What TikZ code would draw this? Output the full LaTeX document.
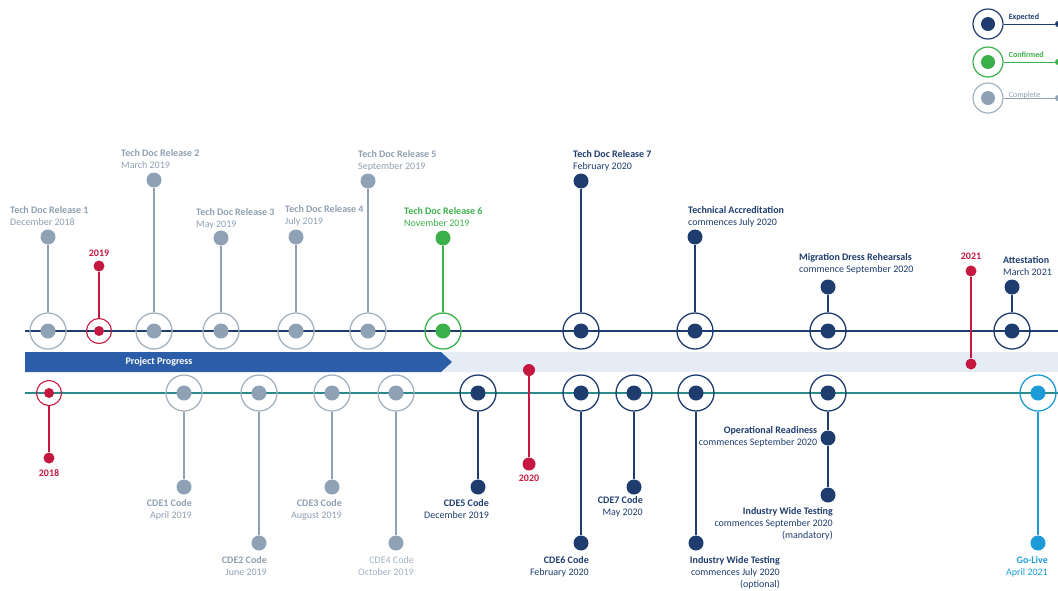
\documentclass[tikz,border=0pt]{standalone}
\usepackage{fontspec}
\setmainfont{Carlito}
\usepackage{xcolor}
\usepackage{tikz}
\definecolor{cnavy}{HTML}{1F3C6E}
\definecolor{cdone}{HTML}{8FA2B5}
\definecolor{cdonering}{HTML}{A4B2C0}
\definecolor{cdonetext}{HTML}{8E9FB1}
\definecolor{cconf}{HTML}{3BB04A}
\definecolor{cyear}{HTML}{C41841}
\definecolor{clive}{HTML}{1C9BD7}
\definecolor{cline}{HTML}{2C8A8C}
\definecolor{cprog}{HTML}{2C5DA8}
\definecolor{cband}{HTML}{E6ECF5}
\NewDocumentCommand{\mstitle}{m m}{\textbf{#1}\\#2}

\begin{document}
\begin{tikzpicture}[x=1pt, y=-1pt,
		msring/.style={circle, draw, line width=1.3pt, minimum size=36pt, inner sep=0pt},
		yrring/.style={circle, draw, line width=1.1pt, minimum size=25pt, inner sep=0pt},
		msdot/.style={circle, fill, minimum size=15pt, inner sep=0pt},
		yrdot/.style={circle, fill, minimum size=11pt, inner sep=0pt},
		stem/.style={line width=1.1pt},
		lbl/.style={inner sep=0pt, font=\fontsize{10}{12}\selectfont, execute at begin node=\strut, execute at end node=\strut},
		tl/.style={lbl, align=left, anchor=south west},
		bl/.style={lbl, align=right, anchor=north east},
		yr/.style={inner sep=0pt, font=\fontsize{10}{12}\selectfont\bfseries, cyear},
		lgring/.style={circle, draw, line width=1.2pt, minimum size=30pt, inner sep=0pt},
		lgdot/.style={circle, fill, minimum size=14pt, inner sep=0pt},
		lgtext/.style={inner sep=0pt, font=\fontsize{8}{10}\selectfont\bfseries, anchor=base west}]
		\useasboundingbox (0,0) rectangle (1058,590);

		\fill [cband] (25,352) rectangle (1058,372);
		\fill [cprog] (25,352) -- (441,352) -- (452,362) -- (441,372) -- (25,372) -- cycle;
		\path (159,362) node [inner sep=0pt, white, font=\fontsize{10}{12}\selectfont\bfseries] (prog) {Project Progress};

		\path (25,331) coordinate (tla) (1058,331) coordinate (tlb);
		\path [draw, cnavy, line width=1.8pt] (tla) -- (tlb);
		\path (25,393) coordinate (bla) (1058,393) coordinate (blb);
		\path [draw, cline, line width=2.2pt] (bla) -- (blb);

		\path (988,24) node [lgring, cnavy] (lge) {} node [lgdot, cnavy] (lgec) {};
		\path (1058,24) node [circle, fill, cnavy, minimum size=6pt, inner sep=0pt] (lgee) {};
		\path [draw, cnavy, line width=1pt] (lge) edge (lgee);
		\path (lge.east) ++(5,-5) node [lgtext, cnavy] (lget) {Expected};
		\path (988,62) node [lgring, cconf] (lgc) {} node [lgdot, cconf] (lgcc) {};
		\path (1058,62) node [circle, fill, cconf, minimum size=6pt, inner sep=0pt] (lgce) {};
		\path [draw, cconf, line width=1pt] (lgc) edge (lgce);
		\path (lgc.east) ++(5,-5) node [lgtext, cconf] (lgct) {Confirmed};
		\path (988,98) node [lgring, cdonering] (lgd) {} node [lgdot, cdone] (lgdc) {};
		\path (1058,98) node [circle, fill, cdone, minimum size=6pt, inner sep=0pt] (lgde) {};
		\path [draw, cdone, line width=1pt] (lgd) edge (lgde);
		\path (lgd.east) ++(5,-1) node [lgtext, cdonetext, font=\fontsize{8}{10}\selectfont] (lgdt) {Complete};

		\path (48,331) node [msring, cdonering] (r1) {} node [msdot, cdone] (c1) {};
		\path (r1) ++(0,-94) node [msdot, cdone] (d1) {};
		\path (d1.north) ++(-38,0) node [tl, cdonetext] (l1) {\mstitle{Tech Doc Release 1}{December 2018}};
		\path [draw, stem, cdone] (r1) edge (d1);

		\path (99,331) node [yrring, cyear] (ry19) {} node [yrdot, cyear, minimum size=10pt] (cy19) {};
		\path (ry19) ++(0,-65) node [yrdot, cyear] (dy19) {};
		\path (dy19.north) ++(0,-4) node [yr, anchor=south] (ly19) {2019};
		\path [draw, stem, cyear] (ry19) edge (dy19);

		\path (154,331) node [msring, cdonering] (r2) {} node [msdot, cdone] (c2) {};
		\path (r2) ++(0,-151) node [msdot, cdone] (d2) {};
		\path (d2.north) ++(-33,0) node [tl, cdonetext] (l2) {\mstitle{Tech Doc Release 2}{March 2019}};
		\path [draw, stem, cdone] (r2) edge (d2);

		\path (221,331) node [msring, cdonering] (r3) {} node [msdot, cdone] (c3) {};
		\path (r3) ++(0,-93) node [msdot, cdone] (d3) {};
		\path (d3.north) ++(-25,1) node [tl, cdonetext] (l3) {\mstitle{Tech Doc Release 3}{May 2019}};
		\path [draw, stem, cdone] (r3) edge (d3);

		\path (296,331) node [msring, cdonering] (r4) {} node [msdot, cdone] (c4) {};
		\path (r4) ++(0,-94) node [msdot, cdone] (d4) {};
		\path (d4.north) ++(-11,-1) node [tl, cdonetext] (l4) {\mstitle{Tech Doc Release 4}{July 2019}};
		\path [draw, stem, cdone] (r4) edge (d4);

		\path (368,331) node [msring, cdonering] (r5) {} node [msdot, cdone] (c5) {};
		\path (r5) ++(0,-150) node [msdot, cdone] (d5) {};
		\path (d5.north) ++(-10,0) node [tl, cdonetext] (l5) {\mstitle{Tech Doc Release 5}{September 2019}};
		\path [draw, stem, cdone] (r5) edge (d5);

		\path (443,331) node [msring, cconf] (r6) {} node [msdot, cconf] (c6) {};
		\path (r6) ++(0,-93) node [msdot, cconf] (d6) {};
		\path (d6.north) ++(-39,0) node [tl, cconf] (l6) {\mstitle{Tech Doc Release 6}{November 2019}};
		\path [draw, stem, cconf] (r6) edge (d6);

		\path (581,331) node [msring, cnavy] (r7) {} node [msdot, cnavy] (c7) {};
		\path (r7) ++(0,-150) node [msdot, cnavy] (d7) {};
		\path (d7.north) ++(-8,0) node [tl, cnavy] (l7) {\mstitle{Tech Doc Release 7}{February 2020}};
		\path [draw, stem, cnavy] (r7) edge (d7);

		\path (695,331) node [msring, cnavy] (rta) {} node [msdot, cnavy] (cta) {};
		\path (rta) ++(0,-94) node [msdot, cnavy] (dta) {};
		\path (dta.north) ++(-7,0) node [tl, cnavy] (lta) {\mstitle{Technical Accreditation}{commences July 2020}};
		\path [draw, stem, cnavy] (rta) edge (dta);

		\path (828,331) node [msring, cnavy] (rmd) {} node [msdot, cnavy] (cmd) {};
		\path (rmd) ++(0,-44) node [msdot, cnavy] (dmd) {};
		\path (dmd.north) ++(-29,-3) node [tl, cnavy] (lmd) {\mstitle{Migration Dress Rehearsals}{commence September 2020}};
		\path [draw, stem, cnavy] (rmd) edge (dmd);

		\path (1012,331) node [msring, cnavy] (rat) {} node [msdot, cnavy] (cat) {};
		\path (rat) ++(0,-44) node [msdot, cnavy] (dat) {};
		\path (dat.north) ++(-9,0) node [tl, cnavy] (lat) {\mstitle{Attestation}{March 2021}};
		\path [draw, stem, cnavy] (rat) edge (dat);

		\path (971,271) node [yrdot, cyear] (dy21) {};
		\path (dy21) ++(0,93) node [yrdot, cyear] (ey21) {};
		\path (dy21.north) ++(0,-6) node [yr, anchor=south] (ly21) {2021};
		\path [draw, stem, cyear] (dy21) edge (ey21);

		\path (49,393) node [yrring, cyear] (ry18) {} node [yrdot, cyear, minimum size=10pt] (cy18) {};
		\path (ry18) ++(0,65) node [yrdot, cyear] (dy18) {};
		\path (dy18.south) ++(0,6) node [yr, anchor=north] (ly18) {2018};
		\path [draw, stem, cyear] (ry18) edge (dy18);

		\path (184,393) node [msring, cdonering] (rc1) {} node [msdot, cdone] (cc1) {};
		\path (rc1) ++(0,94) node [msdot, cdone] (dc1) {};
		\path (dc1.south) ++(8,5) node [bl, cdonetext] (lc1) {\mstitle{CDE1 Code}{April 2019}};
		\path [draw, stem, cdone] (rc1) edge (dc1);

		\path (259,393) node [msring, cdonering] (rc2) {} node [msdot, cdone] (cc2) {};
		\path (rc2) ++(0,150) node [msdot, cdone] (dc2) {};
		\path (dc2.south) ++(8,6) node [bl, cdonetext] (lc2) {\mstitle{CDE2 Code}{June 2019}};
		\path [draw, stem, cdone] (rc2) edge (dc2);

		\path (332,393) node [msring, cdonering] (rc3) {} node [msdot, cdone] (cc3) {};
		\path (rc3) ++(0,94) node [msdot, cdone] (dc3) {};
		\path (dc3.south) ++(10,5) node [bl, cdonetext] (lc3) {\mstitle{CDE3 Code}{August 2019}};
		\path [draw, stem, cdone] (rc3) edge (dc3);

		\path (396,393) node [msring, cdonering] (rc4) {} node [msdot, cdone] (cc4) {};
		\path (rc4) ++(0,150) node [msdot, cdone] (dc4) {};
		\path (dc4.south) ++(18,6) node [bl, cdonering] (lc4) {CDE4 Code\\October 2019};
		\path [draw, stem, cdone] (rc4) edge (dc4);

		\path (478,393) node [msring, cnavy] (rc5) {} node [msdot, cnavy] (cc5) {};
		\path (rc5) ++(0,94) node [msdot, cnavy] (dc5) {};
		\path (dc5.south) ++(11,5) node [bl, cnavy] (lc5) {\mstitle{CDE5 Code}{December 2019}};
		\path [draw, stem, cnavy] (rc5) edge (dc5);

		\path (529,370) node [yrdot, cyear, minimum size=12pt] (dy20) {};
		\path (dy20) ++(0,94) node [yrdot, cyear, minimum size=13pt] (ey20) {};
		\path (ey20.south) ++(0,4) node [yr, anchor=north] (ly20) {2020};
		\path [draw, stem, cyear] (dy20) edge (ey20);

		\path (581,393) node [msring, cnavy] (rc6) {} node [msdot, cnavy] (cc6) {};
		\path (rc6) ++(0,150) node [msdot, cnavy] (dc6) {};
		\path (dc6.south) ++(8,6) node [bl, cnavy] (lc6) {\mstitle{CDE6 Code}{February 2020}};
		\path [draw, stem, cnavy] (rc6) edge (dc6);

		\path (634,393) node [msring, cnavy] (rc7) {} node [msdot, cnavy] (cc7) {};
		\path (rc7) ++(0,94) node [msdot, cnavy] (dc7) {};
		\path (dc7.south) ++(9,2) node [bl, cnavy] (lc7) {\mstitle{CDE7 Code}{May 2020}};
		\path [draw, stem, cnavy] (rc7) edge (dc7);

		\path (696,393) node [msring, cnavy] (riw) {} node [msdot, cnavy] (ciw) {};
		\path (riw) ++(0,150) node [msdot, cnavy] (diw) {};
		\path (diw.south) ++(84,6) node [bl, cnavy] (liw) {\mstitle{Industry Wide Testing}{commences July 2020\\(optional)}};
		\path [draw, stem, cnavy] (riw) edge (diw);

		\path (828,393) node [msring, cnavy] (rop) {} node [msdot, cnavy] (cop) {};
		\path (rop) ++(0,45) node [msdot, cnavy] (dop) {};
		\path (dop.west) ++(-3,0) node [lbl, align=right, anchor=east, cnavy] (lop) {\mstitle{Operational Readiness}{commences September 2020}};
		\path (dop) ++(0,57) node [msdot, cnavy] (dim) {};
		\path (dim.south) ++(5,5) node [bl, cnavy] (lim) {\mstitle{Industry Wide Testing}{commences September 2020\\(mandatory)}};
		\path [draw, stem, cnavy] (rop) edge (dop) (dop) edge (dim);

		\path (1038,393) node [msring, clive] (rgl) {} node [msdot, clive] (cgl) {};
		\path (rgl) ++(0,150) node [msdot, clive] (dgl) {};
		\path (dgl.south) ++(10,6) node [bl, clive] (lgl) {\mstitle{Go-Live}{April 2021}};
		\path [draw, stem, clive] (rgl) edge (dgl);
	\end{tikzpicture}
\end{document}
